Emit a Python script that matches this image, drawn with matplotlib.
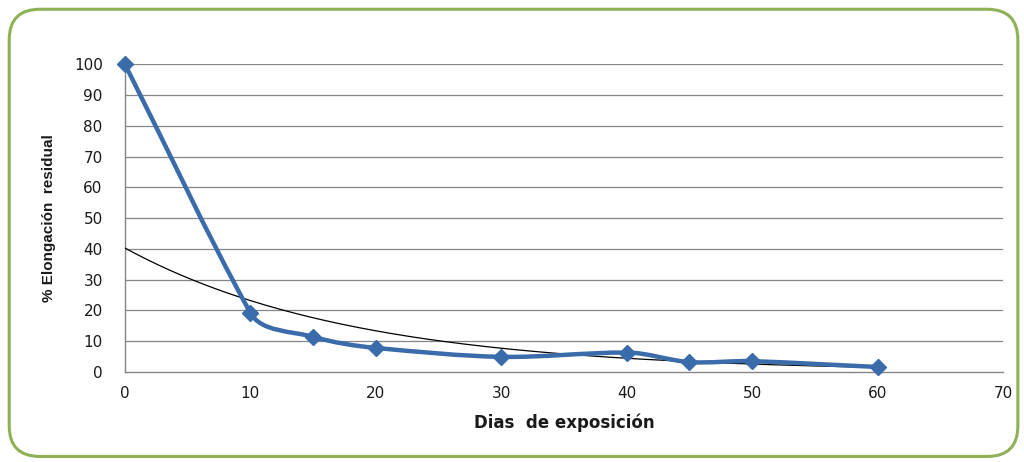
import numpy as np
import matplotlib
matplotlib.use("Agg")
import matplotlib.pyplot as plt
from matplotlib.path import Path
from matplotlib.patches import PathPatch, FancyBboxPatch

# ── Data ──────────────────────────────────────────────────────────
dias       = [0, 10, 15, 20, 30, 40, 45, 50, 60]
elongacion = [100, 19.2, 11.4, 7.8, 4.9, 6.3, 3.2, 3.5, 1.6]
x_ticks    = [0, 10, 20, 30, 40, 50, 60, 70]
y_ticks    = [0, 10, 20, 30, 40, 50, 60, 70, 80, 90, 100]

BLUE   = "#3A6BAA"
GREEN  = "#8DB255"
GRID   = "#868686"
TXT    = "#1A1A1A"


def unit(v):
    n = np.hypot(*v)
    return v / n if n else v


def smooth_path(ax, xs, ys):
    """Smoothed line like Excel: Bezier segments built in pixel space.
    Tangent at each point leans toward the longer neighbouring segment,
    handle length = 1/3 of each segment."""
    trans = ax.transData
    pts = trans.transform(np.column_stack([xs, ys]).astype(float))
    n = len(pts)
    tang = []
    for i in range(n):
        d_in = pts[i] - pts[i - 1] if i > 0 else np.zeros(2)
        d_out = pts[i + 1] - pts[i] if i + 1 < n else np.zeros(2)
        tang.append(unit(d_in * np.hypot(*d_in) + d_out * np.hypot(*d_out)))
    verts = [pts[0]]
    codes = [Path.MOVETO]
    for i in range(n - 1):
        seg = np.hypot(*(pts[i + 1] - pts[i])) / 3.0
        c1 = pts[i] + tang[i] * seg
        c2 = pts[i + 1] - tang[i + 1] * seg
        verts += [c1, c2, pts[i + 1]]
        codes += [Path.CURVE4] * 3
    verts = trans.inverted().transform(np.array(verts))
    return Path(verts, codes)


fig = plt.figure(figsize=(10.24, 4.62), dpi=100)

# green rounded frame (behind the axes)
frame = FancyBboxPatch((0.009, 0.012), 0.985, 0.968,
                       boxstyle="round,pad=0,rounding_size=0.03",
                       transform=fig.transFigure, facecolor="none",
                       edgecolor=GREEN, linewidth=2.2, mutation_aspect=2.2,
                       zorder=-1)
fig.patches.append(frame)

ax = fig.add_axes([0.122, 0.195, 0.8575, 0.666])
ax.set_xlim(0, 70)
ax.set_ylim(0, 100)
ax.set_facecolor("none")

for y in y_ticks[1:]:
    ax.axhline(y, color=GRID, linewidth=0.9, zorder=1)
for s in ["top", "right"]:
    ax.spines[s].set_visible(False)
for s in ["left", "bottom"]:
    ax.spines[s].set_color(GRID)
    ax.spines[s].set_linewidth(1.0)

ax.set_xticks(x_ticks)
ax.set_yticks(y_ticks)
ax.tick_params(length=0, labelsize=11, colors=TXT)
ax.tick_params(axis="x", pad=10)
ax.tick_params(axis="y", pad=16)

# exponential trend line (least squares on log y, like Excel)
b, lna = np.polyfit(dias, np.log(elongacion), 1)
xt = np.linspace(dias[0], dias[-1], 200)
ax.plot(xt, np.exp(lna) * np.exp(b * xt), color="black", linewidth=0.9, zorder=3)

# smoothed series + diamond markers
ax.add_patch(PathPatch(smooth_path(ax, dias, elongacion), facecolor="none",
                       edgecolor=BLUE, linewidth=3.2, zorder=4,
                       capstyle="round", joinstyle="round"))
ax.plot(dias, elongacion, linestyle="none", marker="D", markersize=8.5,
        color=BLUE, zorder=5, clip_on=False)

ax.set_xlabel("Dias  de exposición", fontsize=12, fontweight="bold",
              color=TXT, labelpad=9)
ax.set_ylabel("% Elongación  residual",
              family=["Liberation Sans Narrow", "Liberation Sans"],
              fontsize=11, fontweight="bold", color=TXT, labelpad=13)

fig.savefig("out.png", dpi=100)
